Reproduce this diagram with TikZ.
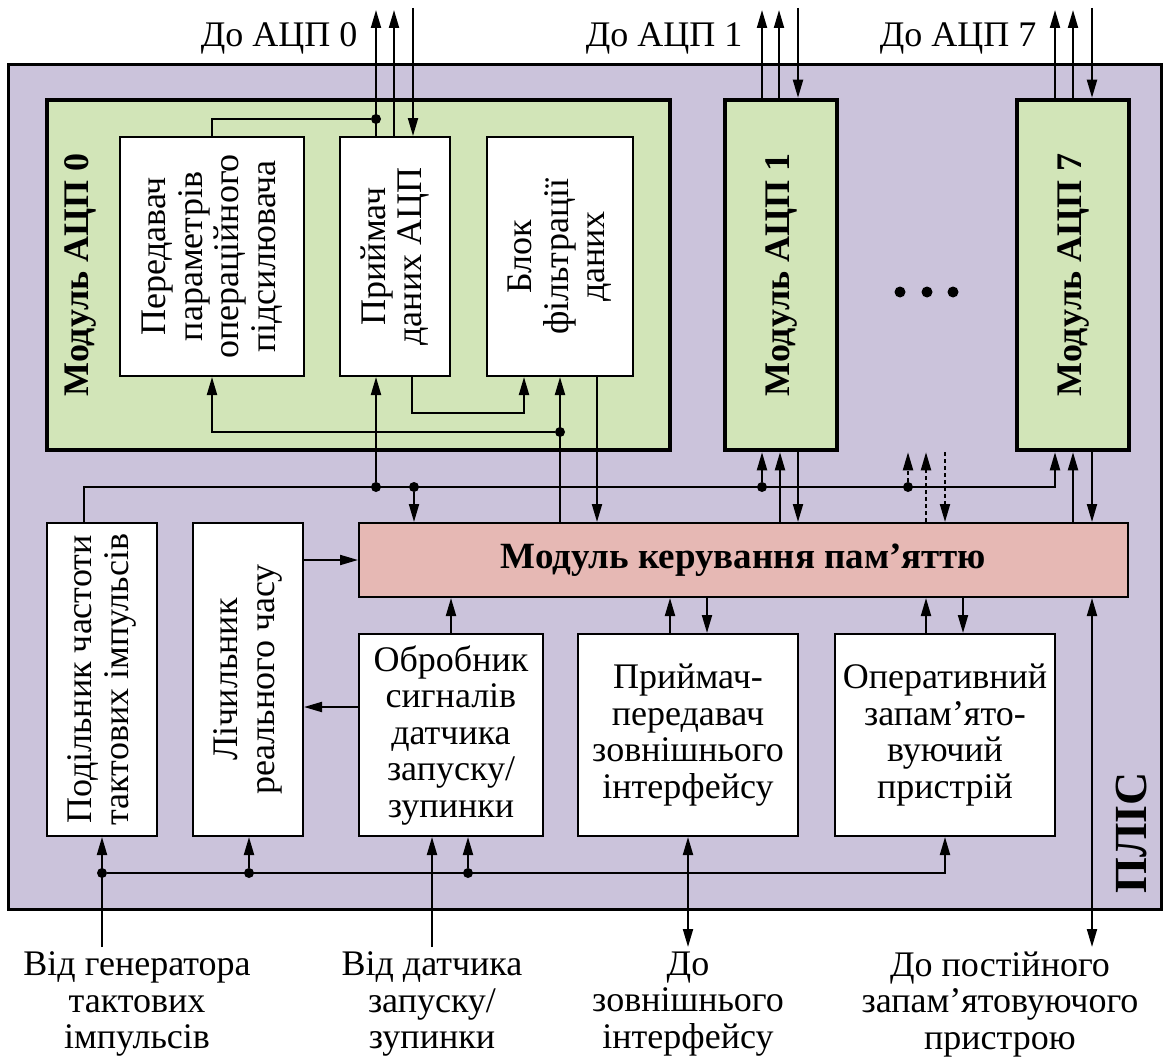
\documentclass[tikz,border=0pt]{standalone}
\usepackage{fontspec}
\setmainfont{Liberation Serif}
\usetikzlibrary{arrows.meta,positioning,calc}
\definecolor{PLLilac}{HTML}{CBC3DB}
\definecolor{PLGreen}{HTML}{D2E5B8}
\definecolor{PLRose}{HTML}{E6B8B4}
\definecolor{PLInk}{HTML}{000000}
\newcommand{\plaintext}{\fontsize{36}{36.5}\selectfont}
\tikzset{
  flow/.style={-{Triangle[length=18pt,width=10pt]},PLInk,line width=2pt},
  flowboth/.style={{Triangle[length=18pt,width=10pt]}-{Triangle[length=18pt,width=10pt]},PLInk,line width=2pt},
  flowdot/.style={flow,dash pattern=on 4pt off 3pt},
  link/.style={PLInk,line width=2pt},
  panel/.style={draw=PLInk,line width=3pt,fill=PLLilac,inner sep=0pt},
  module/.style={draw=PLInk,line width=4.5pt,fill=PLGreen,inner sep=0pt},
  block/.style={draw=PLInk,line width=2pt,fill=white,inner sep=0pt,align=center,font=\plaintext},
  membox/.style={draw=PLInk,line width=2pt,fill=PLRose,inner sep=0pt,
                 font=\fontsize{37}{38}\selectfont\bfseries},
  vtext/.style={rotate=90,align=center,font=\plaintext},
  modlabel/.style={rotate=90,font=\fontsize{36}{38}\selectfont\bfseries},
  caption/.style={align=center,font=\plaintext},
  junction/.style={circle,fill=PLInk,inner sep=0pt,minimum size=10pt},
}

\begin{document}
\begin{tikzpicture}[x=1pt,y=-1pt]
  \useasboundingbox (0,0) rectangle (1165,1057);

  % FPGA body
  \node[panel,minimum width=1153pt,minimum height=844pt] (plis) at (584.5,487) {};
  \node[rotate=90,font=\fontsize{46}{48}\selectfont\bfseries] (plisname) at (1131,833) {ПЛІС};

  % ADC modules
  \node[module,minimum width=623pt,minimum height=350pt] (adc0) at (358.5,275) {};
  \node[modlabel] (adc0name) at (80,275) {Модуль АЦП 0};
  \node[module,minimum width=112pt,minimum height=350pt] (adc1) at (781,275) {};
  \node[modlabel] (adc1name) at (adc1) {Модуль АЦП 1};
  \node[module,minimum width=112pt,minimum height=350pt] (adc7) at (1073,275) {};
  \node[modlabel] (adc7name) at (adc7) {Модуль АЦП 7};
  \foreach \x in {900,927,953}
    \fill[PLInk] (\x,292) circle (5.5pt);

  % blocks inside module 0
  \node[block,minimum width=184pt,minimum height=239pt] (tx) at (212,256.5) {};
  \node[vtext] (txname) at (tx) {Передавач\\параметрів\\операційного\\підсилювача};
  \node[block,minimum width=110pt,minimum height=239pt] (rx) at (395,256.5) {};
  \node[vtext] (rxname) at (rx) {Приймач\\даних АЦП};
  \node[block,minimum width=146pt,minimum height=239pt] (flt) at (560,256.5) {};
  \node[vtext] (fltname) at (flt) {Блок\\фільтрації\\даних};

  % memory controller and lower blocks
  \node[membox,minimum width=769pt,minimum height=74pt] (mem) at (743.5,560) {Модуль керування пам’яттю};
  \node[block,minimum width=110pt,minimum height=313pt] (div) at (102,679.5) {};
  \node[vtext] (divname) at (div) {Подільник частоти\\тактових імпульсів};
  \node[block,minimum width=110pt,minimum height=313pt] (rtc) at (248,679.5) {};
  \node[vtext] (rtcname) at (rtc) {Лічильник\\реального часу};
  \node[block,minimum width=184pt,minimum height=202pt] (stp) at (451,735)
    {Обробник\\сигналів\\датчика\\запуску/\\зупинки};
  \node[block,minimum width=220pt,minimum height=202pt] (ext) at (688,735)
    {Приймач-\\передавач\\зовнішнього\\інтерфейсу};
  \node[block,minimum width=220pt,minimum height=202pt] (ram) at (945,735)
    {Оперативний\\запам’ято-\\вуючий\\пристрій};

  % outside ends
  \coordinate (top) at (0,10);
  \coordinate (topin) at (0,8);
  \coordinate (clkin) at (102,947);
  \coordinate (stpin) at (432,947);
  \coordinate (extout) at (688,947);
  \coordinate (romout) at (1092,947);

  % links to the ADCs
  \node[junction] (j0) at (376,119) {};
  \draw[flow] (376,0 |- rx.north) -- (376,0 |- top);
  \draw[link] (j0) -| (tx.north);
  \draw[flow] (394,0 |- rx.north) -- (394,0 |- top);
  \draw[flow] (413,0 |- topin) -- (413,0 |- rx.north);
  \foreach \a/\b/\c/\m in {762/779/798/adc1,1055/1073/1092/adc7}{
    \draw[flow] (\a,0 |- \m.north) -- (\a,0 |- top);
    \draw[flow] (\b,0 |- \m.north) -- (\b,0 |- top);
    \draw[flow] (\c,0 |- topin) -- (\c,0 |- \m.north);
  }
  \node[caption,anchor=east] (cap0) at (361,38) {До АЦП 0};
  \node[caption,anchor=east] (cap1) at (746,38) {До АЦП 1};
  \node[caption,anchor=east] (cap7) at (1040,38) {До АЦП 7};

  % inside module 0
  \node[junction] (j5) at (560,432) {};
  \draw[flow] (mem.north -| flt.south) -- (flt.south);
  \draw[flow] (j5) -| (tx.south);
  \draw[flow] (412,0 |- rx.south) -- (412,413) -| (524,0 |- flt.south);
  \draw[flow] (597,0 |- flt.south) -- (597,0 |- mem.north);

  % clock bus
  \coordinate (busL) at (84,487);
  \node[junction] (j1) at (376,487) {};
  \node[junction] (j2) at (414,487) {};
  \node[junction] (j3) at (762,487) {};
  \node[junction] (j4) at (908,487) {};
  \draw[flow] (busL |- div.north) -- (busL) -| (1055,0 |- adc7.south);
  \draw[flow] (j1) -- (j1 |- rx.south);
  \draw[flow] (j2) -- (j2 |- mem.north);
  \draw[flow] (j3) -- (j3 |- adc1.south);
  \draw[flowdot] (j4) -- (j4 |- adc1.south);

  % memory <-> ADC modules
  \draw[flow] (780,0 |- mem.north) -- (780,0 |- adc1.south);
  \draw[flow] (798,0 |- adc1.south) -- (798,0 |- mem.north);
  \draw[flowdot] (926,0 |- mem.north) -- (926,0 |- adc1.south);
  \draw[flowdot] (945,0 |- adc1.south) -- (945,0 |- mem.north);
  \draw[flow] (1073,0 |- mem.north) -- (1073,0 |- adc7.south);
  \draw[flow] (1092,0 |- adc7.south) -- (1092,0 |- mem.north);

  % memory <-> lower blocks
  \draw[flow] (rtc.east |- mem.west) -- (mem.west);
  \draw[flow] (stp.west |- 0,707) -- (rtc.east |- 0,707);
  \draw[flow] (stp.north) -- (stp.north |- mem.south);
  \draw[flow] (670,0 |- ext.north) -- (670,0 |- mem.south);
  \draw[flow] (707,0 |- mem.south) -- (707,0 |- ext.north);
  \draw[flow] (926,0 |- ram.north) -- (926,0 |- mem.south);
  \draw[flow] (963,0 |- mem.south) -- (963,0 |- ram.north);
  \draw[flowboth] (romout) -- (romout |- mem.south);

  % lower bus and inputs
  \node[junction] (jb1) at (102,873) {};
  \node[junction] (jb2) at (249,873) {};
  \node[junction] (jb3) at (468,873) {};
  \draw[flow] (clkin) -- (clkin |- div.south);
  \draw[flow] (jb1) -| (ram.south);
  \draw[flow] (jb2) -- (jb2 |- rtc.south);
  \draw[flow] (jb3) -- (jb3 |- stp.south);
  \draw[flow] (stpin) -- (stpin |- stp.south);
  \draw[flowboth] (extout) -- (ext.south);

  \node[caption] (capclk) at (137,1004) {Від генератора\\тактових\\імпульсів};
  \node[caption] (capstp) at (432,1004) {Від датчика\\запуску/\\зупинки};
  \node[caption] (capext) at (688,1004) {До\\зовнішнього\\інтерфейсу};
  \node[caption] (caprom) at (1000,1004) {До постійного\\запам’ятовуючого\\пристрою};
\end{tikzpicture}
\end{document}
